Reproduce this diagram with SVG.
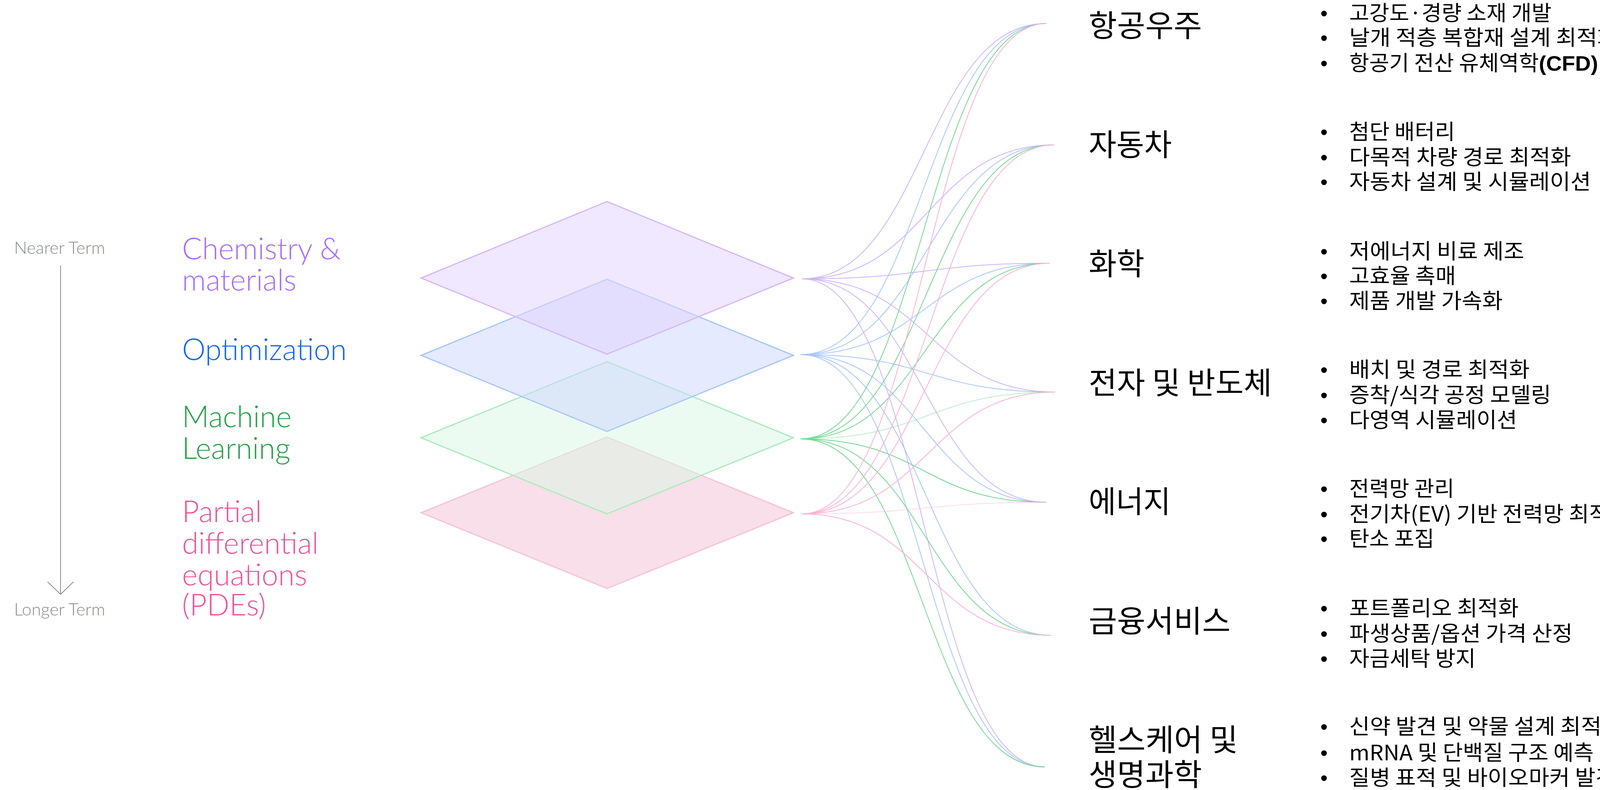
<svg xmlns="http://www.w3.org/2000/svg" width="4192" height="2023" viewBox="0 0 4192 2023">
<style>
.lat{font-family:Lato,"Open Sans","Liberation Sans",sans-serif;font-weight:300}
.term{font-size:44px;fill:#8d8d8d}
.layer{font-size:76px}
.kh{font-family:"Noto Sans CJK KR","Liberation Sans",sans-serif;font-size:78px;fill:#000}
.kb{font-family:"Noto Sans CJK KR","Liberation Sans",sans-serif;font-size:54px;fill:#000}
.dot{font-family:"Liberation Sans",sans-serif;font-size:54px;fill:#000}
.dia{stroke-width:3;stroke-linejoin:miter}
.conn path{fill:none;stroke-width:2}
.cp{stroke:#cdb3fd}
.cb{stroke:#a6c6ff}
.cg{stroke:#74d791}
.ck{stroke:#ffb0d2}
.faint{stroke-opacity:0.45}
</style>

<g id="timeline">
<text class="lat term" x="36" y="650">Nearer Term</text>
<line x1="155" y1="680" x2="155" y2="1522" stroke="#8d8d8d" stroke-width="2"/>
<polyline points="122,1490 155,1522 188,1490" fill="none" stroke="#8d8d8d" stroke-width="2"/>
<text class="lat term" x="36" y="1576">Longer Term</text>
</g>

<g id="layer-pde">
<polygon class="dia" points="1078,1313 1554,1119 2031,1313 1554,1507" fill="#f1bfd3" fill-opacity="0.5" stroke="#f5c2d8"/>
<text class="lat layer" fill="#ee5396"><tspan x="466" y="1337">Partial</tspan><tspan x="466" y="1418">differential</tspan><tspan x="466" y="1499">equations</tspan><tspan x="466" y="1576">(PDEs)</tspan></text>
</g>
<g id="layer-ml">
<polygon class="dia" points="1078,1121 1554,926 2031,1121 1554,1316" fill="#d9f7e5" fill-opacity="0.5" stroke="#a7ecbb"/>
<text class="lat layer" fill="#24a148"><tspan x="466" y="1094">Machine</tspan><tspan x="466" y="1175">Learning</tspan></text>
</g>
<g id="layer-optimization">
<polygon class="dia" points="1078,910 1554,715 2031,910 1554,1105" fill="#cbd5fd" fill-opacity="0.5" stroke="#a6c6ff"/>
<text class="lat layer" fill="#0f62fe" x="466" y="922">Optimization</text>
</g>
<g id="layer-chemistry">
<polygon class="dia" points="1078,712 1554,516 2031,712 1554,907" fill="#e1d1fd" fill-opacity="0.5" stroke="#d4b6fd"/>
<text class="lat layer" fill="#a56eff"><tspan x="466" y="664">Chemistry &amp;</tspan><tspan x="466" y="744">materials</tspan></text>
</g>

<g id="connectors" class="conn">
<path class="cp" d="M2053,714 C2366,714 2366,60 2679,60"/>
<path class="cp" d="M2053,714 C2376,714 2376,371 2699,371"/>
<path class="cp" d="M2053,714 C2370,714 2370,674 2687,674"/>
<path class="cp" d="M2053,714 C2377,714 2377,1004 2701,1004"/>
<path class="cp" d="M2053,714 C2366,714 2366,1286 2679,1286"/>
<path class="cp" d="M2053,714 C2364,714 2364,1964 2675,1964"/>
<path class="cb" d="M2049,908 C2364,908 2364,60 2679,60"/>
<path class="cb" d="M2049,908 C2374,908 2374,371 2699,371"/>
<path class="cb" d="M2049,908 C2368,908 2368,674 2687,674"/>
<path class="cb" d="M2049,908 C2375,908 2375,1004 2701,1004"/>
<path class="cb" d="M2049,908 C2364,908 2364,1286 2679,1286"/>
<path class="cb" d="M2049,908 C2370,908 2370,1627 2691,1627"/>
<path class="cb" d="M2049,908 C2362,908 2362,1964 2675,1964"/>
<path class="cg" d="M2049,1124 C2364,1124 2364,60 2679,60"/>
<path class="cg" d="M2049,1124 C2374,1124 2374,371 2699,371"/>
<path class="cg" d="M2049,1124 C2368,1124 2368,674 2687,674"/>
<path class="cg faint" d="M2049,1124 C2375,1124 2375,1004 2701,1004"/>
<path class="cg" d="M2049,1124 C2364,1124 2364,1286 2679,1286"/>
<path class="cg" d="M2049,1124 C2370,1124 2370,1627 2691,1627"/>
<path class="cg" d="M2049,1124 C2362,1124 2362,1964 2675,1964"/>
<path class="ck" d="M2052,1316 C2366,1316 2366,60 2679,60"/>
<path class="ck" d="M2052,1316 C2376,1316 2376,371 2699,371"/>
<path class="ck" d="M2052,1316 C2370,1316 2370,674 2687,674"/>
<path class="ck" d="M2052,1316 C2377,1316 2377,1004 2701,1004"/>
<path class="ck faint" d="M2052,1316 C2366,1316 2366,1286 2679,1286"/>
<path class="ck" d="M2052,1316 C2372,1316 2372,1627 2691,1627"/>
</g>

<g id="industry-aerospace">
<text class="kh" x="2787" y="94" textLength="290" lengthAdjust="spacingAndGlyphs">항공우주</text>
<text class="dot" x="3380" y="53">•</text><text class="kb" x="3454" y="53" textLength="518" lengthAdjust="spacingAndGlyphs">고강도·경량 소재 개발</text>
<text class="dot" x="3380" y="116">•</text><text class="kb" x="3454" y="116" textLength="688" lengthAdjust="spacingAndGlyphs">날개 적층 복합재 설계 최적화</text>
<text class="dot" x="3380" y="181">•</text><text class="kb" x="3454" y="181" textLength="637" lengthAdjust="spacingAndGlyphs">항공기 전산 유체역학<tspan font-family="Liberation Sans" font-weight="bold">(CFD)</tspan></text>
</g>
<g id="industry-automotive">
<text class="kh" x="2787" y="399" textLength="213" lengthAdjust="spacingAndGlyphs">자동차</text>
<text class="dot" x="3380" y="357">•</text><text class="kb" x="3454" y="357" textLength="271" lengthAdjust="spacingAndGlyphs">첨단 배터리</text>
<text class="dot" x="3380" y="422">•</text><text class="kb" x="3454" y="422" textLength="568" lengthAdjust="spacingAndGlyphs">다목적 차량 경로 최적화</text>
<text class="dot" x="3380" y="485">•</text><text class="kb" x="3454" y="485" textLength="619" lengthAdjust="spacingAndGlyphs">자동차 설계 및 시뮬레이션</text>
</g>
<g id="industry-chemistry">
<text class="kh" x="2787" y="704" textLength="143" lengthAdjust="spacingAndGlyphs">화학</text>
<text class="dot" x="3380" y="663">•</text><text class="kb" x="3454" y="663" textLength="448" lengthAdjust="spacingAndGlyphs">저에너지 비료 제조</text>
<text class="dot" x="3380" y="726">•</text><text class="kb" x="3454" y="726" textLength="273" lengthAdjust="spacingAndGlyphs">고효율 촉매</text>
<text class="dot" x="3380" y="790">•</text><text class="kb" x="3454" y="790" textLength="393" lengthAdjust="spacingAndGlyphs">제품 개발 가속화</text>
</g>
<g id="industry-electronics">
<text class="kh" x="2787" y="1009" textLength="469" lengthAdjust="spacingAndGlyphs">전자 및 반도체</text>
<text class="dot" x="3380" y="966">•</text><text class="kb" x="3454" y="966" textLength="462" lengthAdjust="spacingAndGlyphs">배치 및 경로 최적화</text>
<text class="dot" x="3380" y="1031">•</text><text class="kb" x="3454" y="1031" textLength="517" lengthAdjust="spacingAndGlyphs">증착/식각 공정 모델링</text>
<text class="dot" x="3380" y="1095">•</text><text class="kb" x="3454" y="1095" textLength="430" lengthAdjust="spacingAndGlyphs">다영역 시뮬레이션</text>
</g>
<g id="industry-energy">
<text class="kh" x="2787" y="1313" textLength="210" lengthAdjust="spacingAndGlyphs">에너지</text>
<text class="dot" x="3380" y="1271">•</text><text class="kb" x="3454" y="1271" textLength="269" lengthAdjust="spacingAndGlyphs">전력망 관리</text>
<text class="dot" x="3380" y="1336">•</text><text class="kb" x="3454" y="1336" textLength="719" lengthAdjust="spacingAndGlyphs">전기차(EV) 기반 전력망 최적화</text>
<text class="dot" x="3380" y="1399">•</text><text class="kb" x="3454" y="1399" textLength="218" lengthAdjust="spacingAndGlyphs">탄소 포집</text>
</g>
<g id="industry-finance">
<text class="kh" x="2787" y="1619" textLength="363" lengthAdjust="spacingAndGlyphs">금융서비스</text>
<text class="dot" x="3380" y="1577">•</text><text class="kb" x="3454" y="1577" textLength="434" lengthAdjust="spacingAndGlyphs">포트폴리오 최적화</text>
<text class="dot" x="3380" y="1642">•</text><text class="kb" x="3454" y="1642" textLength="572" lengthAdjust="spacingAndGlyphs">파생상품/옵션 가격 산정</text>
<text class="dot" x="3380" y="1706">•</text><text class="kb" x="3454" y="1706" textLength="324" lengthAdjust="spacingAndGlyphs">자금세탁 방지</text>
</g>
<g id="industry-healthcare">
<text class="kh" x="2787" y="1923" textLength="382" lengthAdjust="spacingAndGlyphs">헬스케어 및</text>
<text class="kh" x="2787" y="2012" textLength="290" lengthAdjust="spacingAndGlyphs">생명과학</text>
<text class="dot" x="3380" y="1880">•</text><text class="kb" x="3454" y="1880" textLength="699" lengthAdjust="spacingAndGlyphs">신약 발견 및 약물 설계 최적화</text>
<text class="dot" x="3380" y="1947">•</text><text class="kb" x="3454" y="1947" textLength="626" lengthAdjust="spacingAndGlyphs">mRNA 및 단백질 구조 예측</text>
<text class="dot" x="3380" y="2011">•</text><text class="kb" x="3454" y="2011" textLength="683" lengthAdjust="spacingAndGlyphs">질병 표적 및 바이오마커 발견</text>
</g>
</svg>
